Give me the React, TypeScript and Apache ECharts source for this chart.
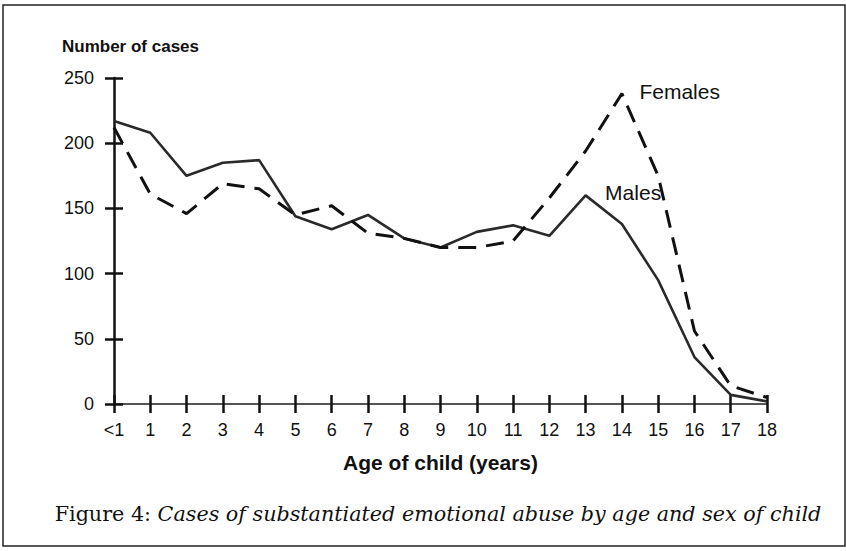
import React, { useEffect, useRef } from "react";
import * as echarts from "echarts";

const ages = ["<1", "1", "2", "3", "4", "5", "6", "7", "8", "9", "10", "11", "12", "13", "14", "15", "16", "17", "18"];
const males = [217, 208, 175, 185, 187, 144, 134, 145, 127, 120, 132, 137, 129, 160, 138, 95, 36, 7, 2];
const females = [212, 161, 146, 169, 165, 145, 152, 131, 127, 120, 120, 125, 158, 194, 238, 175, 56, 14, 5];
const yTicks = { min: 0, max: 250, interval: 50 };
const yTitle = "Number of cases";
const xTitle = "Age of child (years)";
const captionLead = "Figure 4: ";
const captionText = "Cases of substantiated emotional abuse by age and sex of child";
const femalesLabelIndex = 14;
const malesLabelIndex = 13;

const SANS = "'Liberation Sans', Arial, Helvetica, sans-serif";
const SERIF = "'DejaVu Serif', 'Liberation Serif', serif";

export default function App() {
  const ref = useRef<HTMLDivElement>(null);
  useEffect(() => {
    if (!ref.current) return;
    const chart = echarts.init(ref.current, null, { renderer: "svg" });
    const grid = { left: 114, right: 79, top: 78, bottom: 147 };
    const tickStyle = { color: "#111", width: 2.5 };
    const mkLabel = (text: string, distance: number, dy: number) => ({
      show: true,
      formatter: text,
      position: "right",
      distance,
      offset: [0, dy],
      fontSize: 21,
      color: "#111",
      opacity: 1,
      fontFamily: SANS,
    });
    const hiddenSymbol = { color: "rgba(0,0,0,0)", borderWidth: 0 };
    const option: any = {
      animation: false,
      backgroundColor: "#fff",
      textStyle: { fontFamily: SANS },
      title: {
        text: yTitle,
        left: 57,
        top: 33,
        textStyle: { fontFamily: SANS, fontWeight: "bold", fontSize: 17, color: "#111" },
      },
      grid,
      xAxis: [
        {
          type: "category",
          data: ages,
          boundaryGap: false,
          axisLine: { show: true, lineStyle: { color: "#555", width: 2 } },
          axisTick: { show: true, length: 9, lineStyle: tickStyle },
          axisLabel: { color: "#111", fontSize: 18, margin: 17, fontFamily: SANS },
          splitLine: { show: false },
          name: xTitle,
          nameLocation: "middle",
          nameGap: 48,
          nameTextStyle: { fontFamily: SANS, fontWeight: "bold", fontSize: 21, color: "#111" },
        },
        {
          type: "category",
          data: ages,
          boundaryGap: false,
          position: "bottom",
          axisLine: { show: false },
          axisTick: { show: true, inside: true, length: 9, lineStyle: tickStyle },
          axisLabel: { show: false },
          splitLine: { show: false },
        },
      ],
      yAxis: [
        {
          type: "value",
          ...yTicks,
          axisLine: { show: true, lineStyle: { color: "#111", width: 2.5 } },
          axisTick: { show: true, length: 9, lineStyle: tickStyle },
          axisLabel: { color: "#111", fontSize: 18, margin: 20, fontFamily: SANS },
          splitLine: { show: false },
        },
        {
          type: "value",
          ...yTicks,
          position: "left",
          axisLine: { show: false },
          axisTick: { show: true, inside: true, length: 9, lineStyle: tickStyle },
          axisLabel: { show: false },
          splitLine: { show: false },
        },
      ],
      series: [
        {
          name: "Males",
          type: "line",
          data: males.map((v, i) =>
            i === malesLabelIndex ? { value: v, label: mkLabel("Males", 19, -3) } : v
          ),
          symbol: "circle",
          symbolSize: 1,
          showSymbol: true,
          itemStyle: hiddenSymbol,
          lineStyle: { color: "#2a2a2a", width: 2.6, type: "solid" },
          z: 3,
        },
        {
          name: "Females",
          type: "line",
          data: females.map((v, i) =>
            i === femalesLabelIndex ? { value: v, label: mkLabel("Females", 17, -2) } : v
          ),
          symbol: "circle",
          symbolSize: 1,
          showSymbol: true,
          itemStyle: hiddenSymbol,
          lineStyle: { color: "#111", width: 3, type: [18, 10] },
          z: 4,
        },
      ],
      graphic: [
        {
          type: "rect",
          shape: { x: 3, y: 5, width: 842, height: 541 },
          style: { fill: "none", stroke: "#222", lineWidth: 1.5 },
          silent: true,
        },
        {
          type: "text",
          x: 438,
          y: 514,
          style: {
            text: "{a|" + captionLead + "}{b|" + captionText + "}",
            align: "center",
            verticalAlign: "middle",
            rich: {
              a: { fontFamily: SERIF, fontSize: 20.7, fill: "#111", fontStyle: "normal" },
              b: { fontFamily: SERIF, fontSize: 20.7, fill: "#111", fontStyle: "italic" },
            },
          },
        },
      ],
    };
    chart.setOption(option);
    return () => chart.dispose();
  }, []);
  return (
    <div
      ref={ref}
      style={{ position: "fixed", left: 0, top: 0, width: 846, height: 551 }}
    />
  );
}
